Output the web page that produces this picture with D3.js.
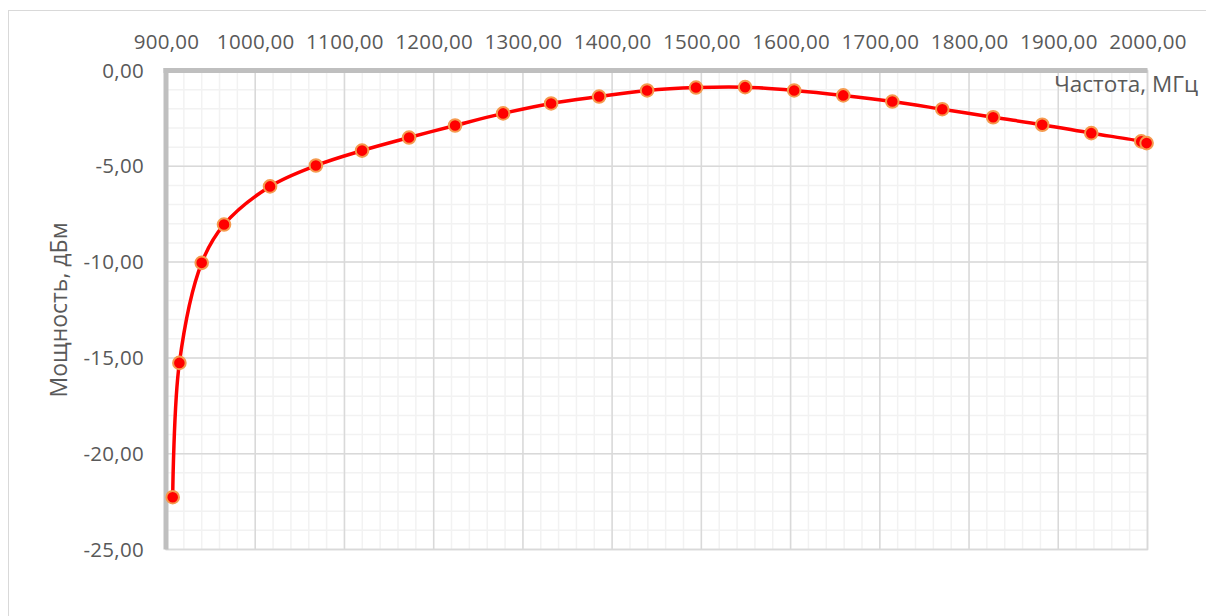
<!DOCTYPE html>
<html><head><meta charset="utf-8">
<script src="https://cdn.jsdelivr.net/npm/d3@7"></script>
<style>body{margin:0;background:#fff}svg{display:block}text{font-family:"Open Sans",sans-serif;fill:#595959}</style>
</head><body><svg id="c" width="1206" height="616"></svg>
<script>
const freq = [907.5, 915, 940, 965, 1016.6, 1068, 1119.7, 1172.4, 1224, 1277.8, 1331.6, 1385.4, 1439.2, 1494, 1549, 1604, 1659, 1714, 1770, 1827, 1882, 1937, 1993, 1999];
const power = [-22.27, -15.26, -10.04, -8.04, -6.05, -4.96, -4.18, -3.50, -2.87, -2.24, -1.72, -1.36, -1.04, -0.89, -0.87, -1.04, -1.30, -1.62, -2.02, -2.44, -2.83, -3.27, -3.70, -3.79];
const xTicks = [900,1000,1100,1200,1300,1400,1500,1600,1700,1800,1900,2000];
const yTicks = [0,-5,-10,-15,-20,-25];
const xTitle = "Частота, МГц";
const yTitle = "Мощность, дБм";

const svg = d3.select("#c");
const L=166, R=1147.5, T=70.5, B=549.5;
const x = d3.scaleLinear().domain([900,2000]).range([L,R]);
const y = d3.scaleLinear().domain([0,-25]).range([T,B]);
const fmt = v => d3.format(".2f")(v).replace(".",",").replace("−","-");

svg.append("rect").attr("x",8.5).attr("y",10.5).attr("width",1220).attr("height",620)
  .attr("fill","none").attr("stroke","#d9d9d9").attr("stroke-width",1);

const g = svg.append("g");
g.selectAll(".mx").data(d3.range(900,2001,20)).join("line")
  .attr("x1",d=>x(d)).attr("x2",d=>x(d)).attr("y1",T).attr("y2",B)
  .attr("stroke","#f2f2f2").attr("stroke-width",1.5);
g.selectAll(".my").data(d3.range(0,-25.5,-1)).join("line")
  .attr("y1",d=>y(d)).attr("y2",d=>y(d)).attr("x1",L).attr("x2",R)
  .attr("stroke","#f2f2f2").attr("stroke-width",1.5);
g.selectAll(".Mx").data(xTicks).join("line")
  .attr("x1",d=>x(d)).attr("x2",d=>x(d)).attr("y1",T).attr("y2",B)
  .attr("stroke","#d9d9d9").attr("stroke-width",1.5);
g.selectAll(".My").data(yTicks).join("line")
  .attr("y1",d=>y(d)).attr("y2",d=>y(d)).attr("x1",L).attr("x2",R)
  .attr("stroke","#d9d9d9").attr("stroke-width",1.5);
svg.append("rect").attr("x",L).attr("y",T).attr("width",R-L).attr("height",B-T)
  .attr("fill","none").attr("stroke","#d9d9d9").attr("stroke-width",1.5);

const xAxis = d3.axisTop(x).tickValues(xTicks).tickFormat(fmt).tickSize(0).tickPadding(22);
const ax = svg.append("g").attr("transform",`translate(0,${T})`).call(xAxis);
ax.select(".domain").attr("stroke","#bfbfbf").attr("stroke-width",5).attr("d",`M${L-2.5},0H${R}`);
ax.selectAll("text").style("font-size","20.5px").style("letter-spacing","0.3px").attr("fill","#595959");

const yAxis = d3.axisLeft(y).tickValues(yTicks).tickFormat(fmt).tickSize(0).tickPadding(22);
const ay = svg.append("g").attr("transform",`translate(${L},0)`).call(yAxis);
ay.select(".domain").attr("stroke","#bfbfbf").attr("stroke-width",5).attr("d",`M0,${T-2.5}V${B}`);
ay.selectAll("text").style("font-size","20.5px").style("letter-spacing","0.3px").attr("fill","#595959");

svg.append("text").attr("x",1198).attr("y",92).attr("text-anchor","end")
  .style("font-size","22.5px").text(xTitle);
svg.append("text").attr("transform","translate(67,310) rotate(-90)").attr("text-anchor","middle")
  .style("font-size","23px").text(yTitle);

const data = freq.map((f,i)=>({f, p: power[i]}));
svg.append("path").datum(data)
  .attr("d", d3.line().x(d=>x(d.f)).y(d=>y(d.p)).curve(d3.curveCatmullRom.alpha(0.5)))
  .attr("fill","none").attr("stroke","#ff0000").attr("stroke-width",3.5);
svg.selectAll(".pt").data(data).join("circle")
  .attr("cx",d=>x(d.f)).attr("cy",d=>y(d.p)).attr("r",6.3)
  .attr("fill","#ff0000").attr("stroke","#f59a4e").attr("stroke-width",2);
</script></body></html>
